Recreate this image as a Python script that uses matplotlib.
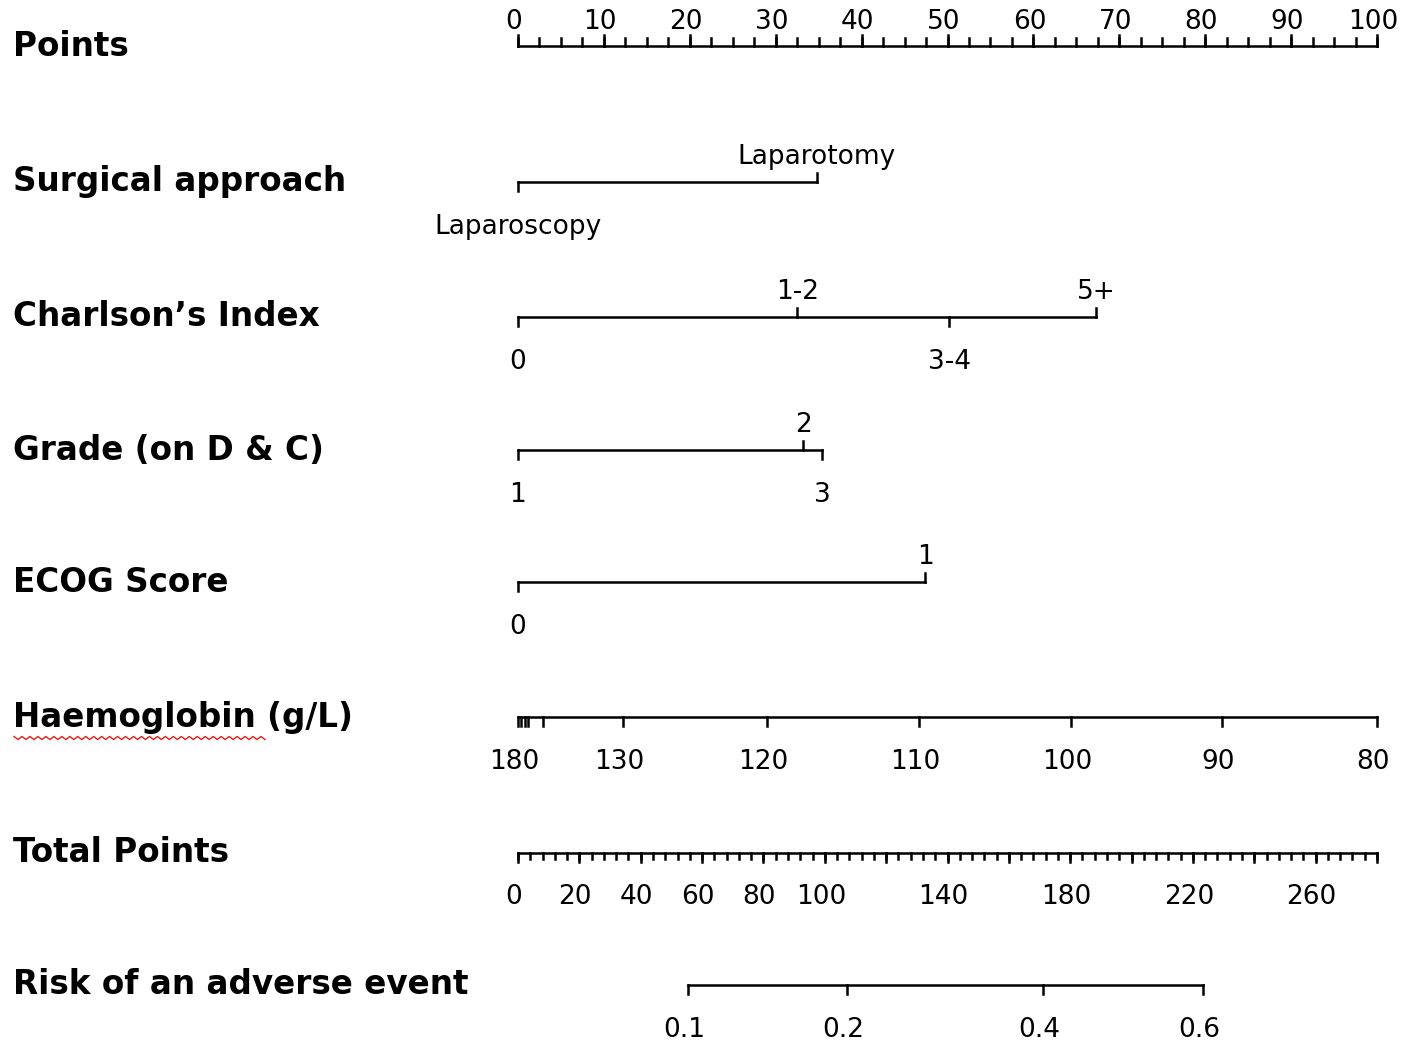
import numpy as np
import matplotlib.pyplot as plt
from matplotlib.transforms import blended_transform_factory

# points scale
points_major = np.arange(0, 101, 10)
points_minor = np.arange(0, 101, 2.5)

# predictors: levels and the points they get
surg_levels = ["Laparoscopy", "Laparotomy"]
surg_points = [0, 34.8]

charlson_levels = ["0", "1-2", "3-4", "5+"]
charlson_points = [0, 32.5, 50.2, 67.3]

grade_levels = ["1", "2", "3"]
grade_points = [0, 33.2, 35.4]

ecog_levels = ["0", "1"]
ecog_points = [0, 47.4]

hb_values = [180, 170, 160, 150, 140, 130, 120, 110, 100, 90, 80]
hb_points = [0, 0.4, 0.8, 1.2, 2.9, 12.2, 29.0, 46.7, 64.4, 82.0, 100]
hb_labels = ["180", "", "", "", "", "130", "120", "110", "100", "90", "80"]

# total points scale
total_max = 280
total_minor = np.arange(0, 281, 4)
total_major = np.arange(0, 281, 20)
total_labels = [0, 20, 40, 60, 80, 100, 140, 180, 220, 260]

# risk scale, placed on total points
risk_values = [0.1, 0.2, 0.4, 0.6]
risk_total_points = [55.4, 107.3, 171.2, 223.4]

row_names = ["Points", "Surgical approach", "Charlson\u2019s Index", "Grade (on D & C)",
             "ECOG Score", "Haemoglobin (g/L)", "Total Points", "Risk of an adverse event"]

W, H = 1406, 1045
fig = plt.figure(figsize=(W / 100, H / 100), dpi=100)
ax = fig.add_axes([0, 0, 1, 1])
# x in points: 0 -> pixel 518, 100 -> pixel 1377
px_per_pt = (1377 - 518) / 100
ax.set_xlim(-518 / px_per_pt, (W - 518) / px_per_pt)
ax.set_ylim(H, 0)
ax.axis("off")

row_y = [46, 182, 317, 450, 582, 717, 853, 985]
lw = 1.8
tick = 9
lab_fs = 19
name_fs = 23.5
shift = -4 / px_per_pt   # axis numbers sit a little left of their ticks

blend = blended_transform_factory(ax.transAxes, ax.transData)
for name, y in zip(row_names, row_y):
    ax.text(0.0095, y, name, transform=blend, fontsize=name_fs, fontweight="bold",
            va="center", ha="left")

# red spell-check underline under "Haemoglobin"
xs = np.linspace(14, 265, 64)
ys = 738 + np.where(np.arange(64) % 2 == 0, -1.5, 1.5)
ax.plot(xs / px_per_pt - 518 / px_per_pt, ys, color="#e0201a", lw=1.0)

# points axis
y0 = row_y[0]
ax.plot([0, 100], [y0, y0], color="black", lw=lw)
for p in points_minor:
    ax.plot([p, p], [y0, y0 - 8], color="black", lw=lw)
for p in points_major:
    ax.plot([p, p], [y0, y0 - 11], color="black", lw=lw)
    ax.text(p + shift, y0 - 24, f"{p:g}", fontsize=lab_fs, ha="center", va="center")


def cat_row(y, levels, pts):
    ax.plot([min(pts), max(pts)], [y, y], color="black", lw=lw)
    for i, (lev, p) in enumerate(zip(levels, pts)):
        if i % 2 == 0:
            ax.plot([p, p], [y, y + tick], color="black", lw=lw)
            ax.text(p, y + 45, lev, fontsize=lab_fs, ha="center", va="center")
        else:
            ax.plot([p, p], [y, y - tick], color="black", lw=lw)
            ax.text(p, y - 25, lev, fontsize=lab_fs, ha="center", va="center")


cat_row(row_y[1], surg_levels, surg_points)
cat_row(row_y[2], charlson_levels, charlson_points)
cat_row(row_y[3], grade_levels, grade_points)
cat_row(row_y[4], ecog_levels, ecog_points)

# haemoglobin
y5 = row_y[5]
ax.plot([0, 100], [y5, y5], color="black", lw=lw)
for p, lab in zip(hb_points, hb_labels):
    ax.plot([p, p], [y5, y5 + tick], color="black", lw=lw)
    if lab:
        ax.text(p + shift, y5 + 45, lab, fontsize=lab_fs, ha="center", va="center")

# total points
y6 = row_y[6]
scale = 100 / total_max
ax.plot([0, 100], [y6, y6], color="black", lw=lw)
for t in total_minor:
    ax.plot([t * scale] * 2, [y6, y6 + 6], color="black", lw=lw)
for t in total_major:
    ax.plot([t * scale] * 2, [y6, y6 + tick], color="black", lw=lw)
for t in total_labels:
    ax.text(t * scale + shift, y6 + 44, str(t), fontsize=lab_fs, ha="center", va="center")

# risk
y7 = row_y[7]
rp = [t * scale for t in risk_total_points]
ax.plot([rp[0], rp[-1]], [y7, y7], color="black", lw=lw)
for v, p in zip(risk_values, rp):
    ax.plot([p, p], [y7, y7 + tick], color="black", lw=lw)
    ax.text(p + shift, y7 + 45, f"{v:g}", fontsize=lab_fs, ha="center", va="center")

fig.savefig("out.png", dpi=100)
